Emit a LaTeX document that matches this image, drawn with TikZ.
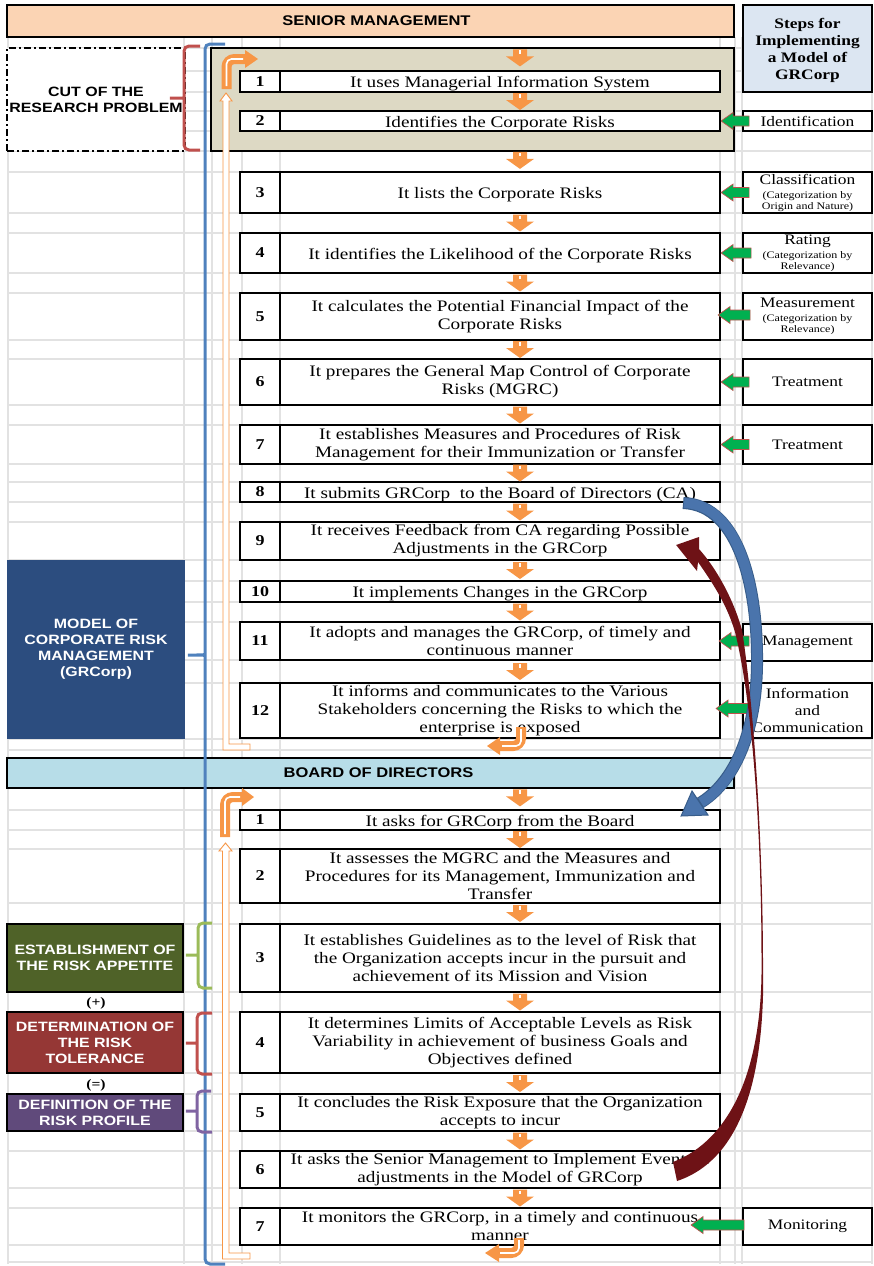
\documentclass[tikz,border=0pt]{standalone}
\usepackage{fontspec}
\setmainfont{Liberation Serif}[FakeStretch=1.2]
\newfontfamily\hdfont{Liberation Sans}[FakeStretch=1.18]
\usetikzlibrary{calc}
\definecolor{smpeach}{HTML}{FBD4B4}
\definecolor{stepsblue}{HTML}{DCE6F2}
\definecolor{tanfill}{HTML}{DDD9C4}
\definecolor{bdblue}{HTML}{B7DDE8}
\definecolor{modelblue}{HTML}{2C4D7F}
\definecolor{appgreen}{HTML}{4F6228}
\definecolor{tolred}{HTML}{953735}
\definecolor{profpurple}{HTML}{604A7B}
\definecolor{braceblue}{HTML}{4F81BD}
\definecolor{bracered}{HTML}{C0504D}
\definecolor{bracegreen}{HTML}{9BBB59}
\definecolor{bracepurple}{HTML}{8064A2}
\definecolor{orgarr}{HTML}{F79646}
\definecolor{grarr}{HTML}{00B050}
\definecolor{gridgray}{HTML}{E2E2E2}
\definecolor{curvblue}{HTML}{4A74AC}
\definecolor{curvblueline}{HTML}{385D8A}
\definecolor{curvred}{HTML}{6E1216}
\newcommand\subfont{\fontsize{10}{11}\selectfont}
\tikzset{
  pics/darr/.style={code={
    \fill[orgarr] (-7,-8.5) -- (7,-8.5) -- (7,-1.5) -- (14,-1.5) -- (0,8.5) -- (-14,-1.5) -- (-7,-1.5) -- cycle;
    \draw[white, line width=1.2pt] (0,-7.5) -- (0,-4);
  }},
  pics/garr/.style={code={
    \filldraw[fill=grarr, draw=bracered, line width=0.7pt] (0,0) -- (12,-8.5) -- (12,-5) -- (#1,-5) -- (#1,5) -- (12,5) -- (12,8.5) -- cycle;
  }},
}
\begin{document}
\begin{tikzpicture}[x=1pt, y=-1pt,
  gridline/.style={draw=gridgray, line width=1.3pt},
  box/.style={draw=black, line width=2.2pt, fill=white, inner sep=0pt, align=center},
  numbox/.style={box, minimum width=40pt, font=\fontsize{15}{18}\selectfont\bfseries},
  txtbox/.style={box, minimum width=440pt, font=\fontsize{16}{18}\selectfont, execute at begin node={\rule{0pt}{16pt}}},
  rbox/.style={box, minimum width=129pt, font=\fontsize{14.5}{17}\selectfont},
  catbox/.style={rbox, font=\fontsize{14.5}{11}\selectfont},
  hdrbox/.style={draw=black, line width=2.2pt, inner sep=0pt, minimum width=727pt, font=\hdfont\bfseries\fontsize{14}{16}\selectfont},
  sidebox/.style={draw=black, line width=2pt, inner sep=0pt, align=center, minimum width=176pt, text=white, font=\hdfont\bfseries\fontsize{13.5}{16}\selectfont},
  sidebrace/.style={line width=3pt, rounded corners=5pt},
  orgfat/.style={draw=orgarr, line width=10pt, rounded corners=8pt},
  orghigh/.style={draw=white, line width=1.6pt, rounded corners=5pt},
  orgtube/.style={draw=orgarr, fill=white, line width=0.9pt},
]
\useasboundingbox (0,0) rectangle (874,1266);
% spreadsheet grid
\foreach \gx in {8,184,212,242,280,720,735,742,872}
  \draw[gridline] (\gx,37) -- (\gx,1264);
\foreach \gy in {48,71,92,111,131,151,172,213,233,273,293,340,359,405,425,464,482,502,522,560,581,602,622,660,683,739,750,758,788,810,830,849,903,924,992,1012,1073,1094,1131,1151,1188,1208,1245,1262}
  \draw[gridline] (8,\gy) -- (872,\gy);

% headers
\node[hdrbox, fill=smpeach, minimum height=32pt] (smhdr) at (370.5,21) {\hspace*{12pt}SENIOR MANAGEMENT};
\node[box, fill=stepsblue, minimum width=129pt, minimum height=87pt, font=\fontsize{14.5}{17}\selectfont\bfseries] (stephdr) at (807.5,48.5) {\rule{0pt}{14pt}Steps for\\Implementing\\a Model of\\GRCorp};
\node[draw=black, line width=2.2pt, fill=tanfill, minimum width=523pt, minimum height=103pt] (tanbox) at (472.5,99.5) {};
\node[hdrbox, fill=bdblue, minimum height=30pt] (bdhdr) at (370.5,773) {\hspace*{16pt}BOARD OF DIRECTORS};

% left boxes
\node[sidebox, text=black, fill=white, minimum width=178pt, minimum height=103pt, line width=2.2pt, dash pattern=on 7pt off 3pt on 2pt off 3pt] (cut) at (96,99.5) {CUT OF THE\\RESEARCH PROBLEM};
\node[sidebox, draw=none, fill=modelblue, minimum width=178pt, minimum height=179pt] (model) at (96,649.5) {MODEL OF\\CORPORATE RISK\\MANAGEMENT\\(GRCorp)};
\node[sidebox, fill=appgreen, minimum height=68pt] (appetite) at (95,958) {ESTABLISHMENT OF\\THE RISK APPETITE};
\node[font=\fontsize{13}{15}\selectfont\bfseries] (plus) at (96,1003) {(+)};
\node[sidebox, fill=tolred, minimum height=61pt] (tolerance) at (95,1042.5) {DETERMINATION OF\\THE RISK\\TOLERANCE};
\node[font=\fontsize{13}{15}\selectfont\bfseries] (equal) at (96,1085) {(=)};
\node[sidebox, fill=profpurple, minimum height=37pt] (profile) at (95,1112.5) {DEFINITION OF THE\\RISK PROFILE};

% senior management steps
\foreach \k/\ya/\yb/\txt in {
  1/71/92/{It uses Managerial Information System},
  2/111/131/{Identifies the Corporate Risks},
  3/172/213/{It lists the Corporate Risks},
  4/233/273/{It identifies the Likelihood of the Corporate Risks},
  5/293/340/{It calculates the Potential Financial Impact of the\\Corporate Risks},
  6/359/405/{It prepares the General Map Control of Corporate\\Risks (MGRC)},
  7/425/464/{It establishes Measures and Procedures of Risk\\Management for their Immunization or Transfer},
  8/482/502/{It submits GRCorp~ to the Board of Directors (CA)},
  9/522/560/{It receives Feedback from CA regarding Possible\\Adjustments in the GRCorp},
  10/581/602/{It implements Changes in the GRCorp},
  11/622/660/{It adopts and manages the GRCorp, of timely and\\continuous manner},
  12/683/738/{It informs and communicates to the Various\\Stakeholders concerning the Risks to which the\\enterprise is exposed}}{
  \pgfmathsetmacro\hh{\yb-\ya}
  \pgfmathsetmacro\yc{(\ya+\yb)/2}
  \node[numbox, minimum height=\hh pt] (smn\k) at (260,\yc) {\k};
  \node[txtbox, minimum height=\hh pt] (sm\k) at (500,\yc) {\txt};
}

% board of directors steps
\foreach \k/\ya/\yb/\txt in {
  1/810/830/{It asks for GRCorp from the Board},
  2/849/903/{It assesses the MGRC and the Measures and\\Procedures for its Management, Immunization and\\Transfer},
  3/924/992/{It establishes Guidelines as to the level of Risk that\\the Organization accepts incur in the pursuit and\\achievement of its Mission and Vision},
  4/1012/1073/{It determines Limits of Acceptable Levels as Risk\\Variability in achievement of business Goals and\\Objectives defined},
  5/1094/1131/{It concludes the Risk Exposure that the Organization\\accepts to incur},
  6/1151/1188/{It asks the Senior Management to Implement Eventual\\adjustments in the Model of GRCorp},
  7/1208/1245/{It monitors the GRCorp, in a timely and continuous\\manner}}{
  \pgfmathsetmacro\hh{\yb-\ya}
  \pgfmathsetmacro\yc{(\ya+\yb)/2}
  \node[numbox, minimum height=\hh pt] (bdn\k) at (260,\yc) {\k};
  \node[txtbox, minimum height=\hh pt] (bd\k) at (500,\yc) {\txt};
}

% implementation steps
\node[rbox, minimum height=20pt] (ridf) at (807.5,121) {Identification};
\node[catbox, minimum height=41pt] (rcls) at (807.5,192.5) {Classification\\[3pt]\subfont (Categorization by\\\subfont Origin and Nature)};
\node[catbox, minimum height=40pt] (rrat) at (807.5,253) {Rating\\[3pt]\subfont (Categorization by\\\subfont Relevance)};
\node[catbox, minimum height=47pt] (rmea) at (807.5,316.5) {Measurement\\[3pt]\subfont (Categorization by\\\subfont Relevance)};
\node[rbox, minimum height=46pt] (rtr1) at (807.5,382) {Treatment};
\node[rbox, minimum height=39pt] (rtr2) at (807.5,444.5) {Treatment};
\node[rbox, minimum height=37pt] (rman) at (807.5,642.5) {Management};
\node[rbox, minimum height=55pt] (rinf) at (807.5,710.5) {Information\\and\\Communication};
\node[rbox, minimum height=37pt] (rmon) at (807.5,1226.5) {Monitoring};

% braces
\draw[sidebrace, bracered] (200,46) -- (184,46) -- (184,93) .. controls (184,98) .. (167,98) .. controls (184,98) .. (184,103) -- (184,150) -- (200,150);
\draw[sidebrace, braceblue] (225,44) -- (205,44) -- (205,649) .. controls (205,655) .. (185,655) .. controls (205,655) .. (205,661) -- (205,1264) -- (225,1264);
\draw[sidebrace, bracegreen] (212,923) -- (198,923) -- (198,950) .. controls (198,955) .. (183,955) .. controls (198,955) .. (198,960) -- (198,988) -- (212,988);
\draw[sidebrace, bracered] (212,1013) -- (197,1013) -- (197,1038) .. controls (197,1043) .. (183,1043) .. controls (197,1043) .. (197,1048) -- (197,1074) -- (212,1074);
\draw[sidebrace, bracepurple] (211,1091) -- (197,1091) -- (197,1106) .. controls (197,1111) .. (183,1111) .. controls (197,1111) .. (197,1116) -- (197,1132) -- (212,1132);

% orange return loops
\draw[orgtube] (229,101) -- (232,101) -- (226,93) -- (220,101) -- (223,101) -- (223,750) -- (250,750) -- (250,744) -- (229,744) -- cycle;
\draw[orgtube] (229,851) -- (232,851) -- (225.5,843) -- (219,851) -- (222.5,851) -- (222.5,1259) -- (250,1259) -- (250,1253) -- (229,1253) -- cycle;
\draw[orgfat] (226.5,89) -- (226.5,59) -- (246,59);
\draw[orghigh] (226.5,86) -- (226.5,59) -- (243,59);
\fill[orgarr] (245,50) -- (258,59) -- (245,68) -- cycle;
\draw[orgfat] (225,837) -- (225,797) -- (243,797);
\draw[orghigh] (225,834) -- (225,797) -- (240,797);
\fill[orgarr] (242,788) -- (254,797) -- (242,806) -- cycle;
\draw[orgfat] (521,727) -- (521,746) -- (499,746);
\draw[orghigh] (521,729) -- (521,746) -- (502,746);
\fill[orgarr] (500,737) -- (487,746) -- (500,755) -- cycle;
\draw[orgfat] (519,1238) -- (519,1253) -- (497,1253);
\draw[orghigh] (519,1240) -- (519,1253) -- (500,1253);
\fill[orgarr] (499,1244) -- (485,1253) -- (499,1262) -- cycle;

% flow arrows between steps
\pic at ($(sm1.north)+(20,-12)$) {darr};
\pic at ($(sm3.north)+(20,-10.5)$) {darr};
\foreach \k/\j in {1/2,3/4,4/5,5/6,6/7,7/8,8/9,9/10,10/11,11/12}
  \pic at ($(sm\k.south)!0.5!(sm\j.north)+(20,0)$) {darr};
\pic at ($(bd1.north)+(20,-11)$) {darr};
\foreach \k/\j in {1/2,2/3,3/4,4/5,5/6,6/7}
  \pic at ($(bd\k.south)!0.5!(bd\j.north)+(20,0)$) {darr};

% green arrows from the steps column
\pic at (sm2.east) {garr=28};
\pic at (sm3.east) {garr=28};
\pic at (sm4.east) {garr=30};
\pic at ($(sm5.east)+(-3,-1.5)$) {garr=32};
\pic at (sm6.east) {garr=28};
\pic at (sm7.east) {garr=28};
\pic at ($(sm11.east)+(-2,0)$) {garr=30};
\pic at ($(sm12.east)+(-5,-2)$) {garr=40};
\pic at ($(bd7.east)+(-30,-1.5)$) {garr=53};

% curved arrow to the board
\draw[curvblueline, line width=12pt] ($(sm8.east)+(-38,11)$) .. controls (740,505) and (758,590) .. (757,665) .. controls (756,740) and (730,785) .. (700,803);
\draw[curvblue, line width=10pt] ($(sm8.east)+(-37,11)$) .. controls (740,505) and (758,590) .. (757,665) .. controls (756,740) and (730,785) .. (701,802.5);
\filldraw[fill=curvblue, draw=curvblueline, line width=1pt] (708,815) -- ($(bd1.east)+(-40,-4)$) -- (692,791) -- cycle;

% curved arrow back to senior management
\fill[curvred] (677,1181) .. controls (740,1160) and (766,1080) .. (763,960) .. controls (762.5,830) and (753,700) .. (742,630) .. controls (733,598) and (716,568) .. (699,549) -- (699,537) -- ($(sm9.east)+(-45,4)$) -- (697,571) -- (698,562) .. controls (714,585) and (727,605) .. (735,632) .. controls (752,700) and (761.5,830) .. (761.5,960) .. controls (763,1070) and (730,1140) .. (673,1162) -- cycle;
\end{tikzpicture}
\end{document}
